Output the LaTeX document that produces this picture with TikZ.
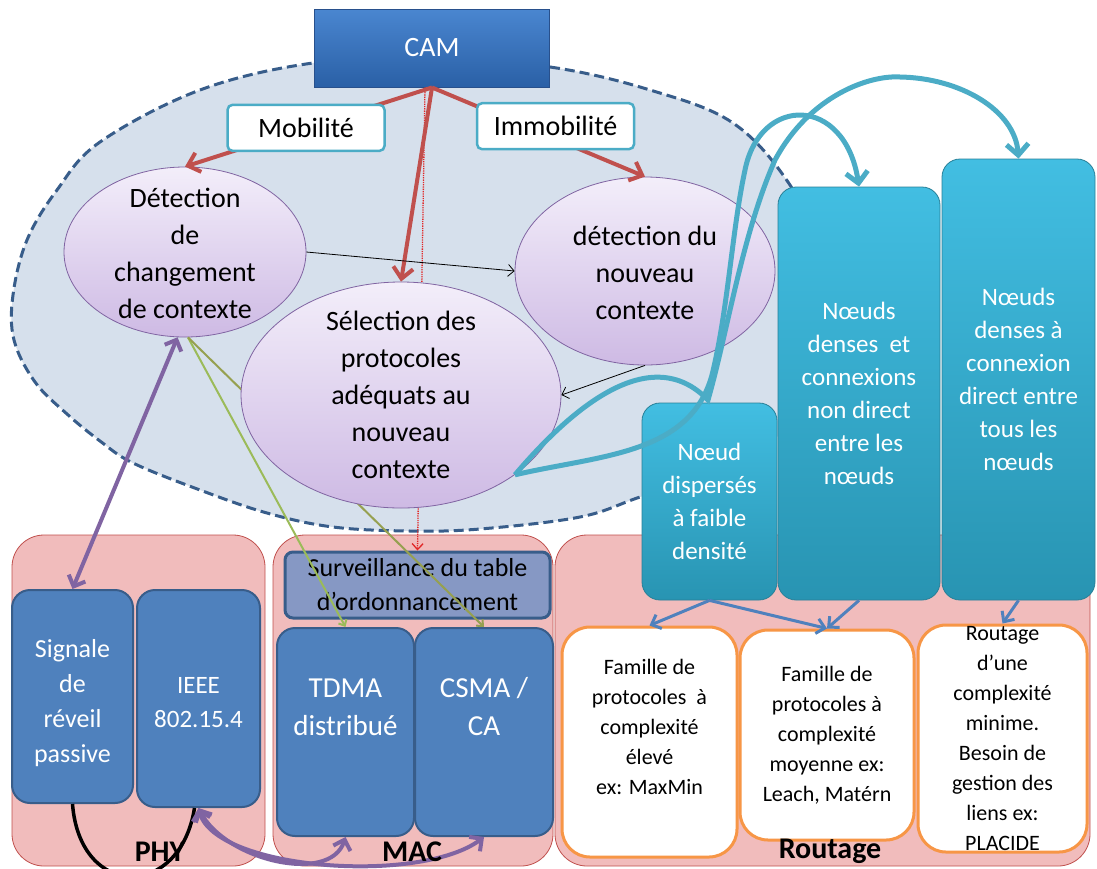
\documentclass[tikz,border=0pt]{standalone}
\usepackage{fontspec}
\setmainfont{Carlito}
\usepackage{xcolor}
\usepackage{tikz}
\usetikzlibrary{shapes.geometric,arrows.meta}

\definecolor{zonefill}{RGB}{214,224,236}
\definecolor{zoneline}{RGB}{56,93,138}
\definecolor{camtop}{RGB}{74,134,208}
\definecolor{cambot}{RGB}{42,96,166}
\definecolor{camline}{RGB}{40,80,140}
\definecolor{tagline}{RGB}{75,172,198}
\definecolor{ctxtop}{RGB}{243,238,250}
\definecolor{ctxbot}{RGB}{206,186,228}
\definecolor{ctxline}{RGB}{128,100,162}
\definecolor{layerfill}{RGB}{241,188,188}
\definecolor{layerline}{RGB}{192,80,77}
\definecolor{blkfill}{RGB}{79,129,189}
\definecolor{blkline}{RGB}{56,93,138}
\definecolor{survfill}{RGB}{134,152,196}
\definecolor{denstop}{RGB}{66,190,226}
\definecolor{densbot}{RGB}{40,148,178}
\definecolor{densline}{RGB}{40,128,152}
\definecolor{famline}{RGB}{247,150,70}
\definecolor{redarr}{RGB}{192,80,77}
\definecolor{dotred}{RGB}{225,40,40}
\definecolor{purplearr}{RGB}{128,100,162}
\definecolor{greenarr}{RGB}{155,187,89}
\definecolor{olivearr}{RGB}{150,160,80}
\definecolor{bluearr}{RGB}{79,129,189}
\definecolor{cyanarr}{RGB}{75,172,198}

\begin{document}
\begin{tikzpicture}[x=1pt, y=-1pt,
  zone/.style={draw=zoneline, fill=zonefill, line width=3pt, dash pattern=on 10pt off 5pt},
  layer/.style={draw=layerline, line width=0.8pt, fill=layerfill, rounded corners=32pt},
  layertitle/.style={inner sep=0pt, font=\bfseries\fontsize{30}{34}\selectfont},
  blk/.style={draw=blkline, line width=2pt, fill=blkfill, rounded corners=18pt},
  blktxt/.style={text=white, align=center, inner sep=0pt, font=\fontsize{26}{35}\selectfont},
  ctx/.style={ellipse, draw=ctxline, line width=0.8pt, top color=ctxtop, bottom color=ctxbot},
  ctxtxt/.style={align=center, inner sep=0pt, font=\fontsize{28}{37}\selectfont},
  tag/.style={draw=tagline, line width=2.5pt, fill=white, rounded corners=5pt, minimum width=157pt, minimum height=46pt, font=\fontsize{28}{34}\selectfont},
  dens/.style={draw=densline, line width=0.8pt, top color=denstop, bottom color=densbot, rounded corners=18pt, text=white, align=center, font=\fontsize{25}{33}\selectfont},
  fam/.style={draw=famline, line width=3pt, fill=white, rounded corners=28pt},
  famtxt/.style={align=center, inner sep=0pt, font=\fontsize{22}{30}\selectfont},
  flow/.style={draw=redarr, line width=4pt, -{Straight Barb[length=11pt,width=20pt]}},
  thinflow/.style={draw=black, line width=0.8pt, -{Straight Barb[length=6pt,width=12pt]}},
  feed/.style={line width=2pt, -{Straight Barb[length=5pt,width=9pt]}},
  duo/.style={draw=purplearr, line width=4pt, {Straight Barb[length=9pt,width=18pt]}-{Straight Barb[length=9pt,width=18pt]}},
  route/.style={draw=bluearr, line width=3pt, -{Straight Barb[length=8pt,width=15pt]}},
  swirl/.style={draw=cyanarr, line width=5pt, -{Straight Barb[length=11pt,width=22pt]}}]

\useasboundingbox (0,0) rectangle (1097,868);

\draw[zone] plot[smooth cycle, tension=0.6] coordinates {(430,58) (550,67) (650,90) (733,123) (790,185) (825,260) (830,340) (795,420) (720,470) (640,497) (580,517) (480,529) (410,531) (333,527) (267,513) (200,490) (133,463) (100,441) (67,414) (35,382) (14,340) (13,295) (27,240) (57,190) (100,142) (200,90) (313,63)};

\node[layer, minimum width=253pt, minimum height=331pt] (phy) at (138.5,700.5) {};
\node[layer, minimum width=280pt, minimum height=331pt] (mac) at (413,700.5) {};
\node[layer, minimum width=535pt, minimum height=331pt] (rout) at (822.5,700.5) {};

\node[blk, minimum width=121pt, minimum height=213pt] (sig) at (72.5,696.5) {};
\node[blktxt] (sigtxt) at (72.5,703) {Signale\\de\\réveil\\passive};
\node[blk, minimum width=123pt, minimum height=217pt] (ieee) at (198.5,698.5) {};
\node[blktxt, font=\fontsize{25}{34}\selectfont] (ieeetxt) at (198.5,703) {IEEE\\802.15.4};
\node[blk, minimum width=137pt, minimum height=208pt] (tdma) at (345.5,732) {};
\node[blktxt, font=\fontsize{29}{38}\selectfont] (tdmatxt) at (345.5,707) {TDMA\\distribué};
\node[blk, minimum width=138pt, minimum height=208pt] (csma) at (484,732) {};
\node[blktxt, font=\fontsize{29}{38}\selectfont] (csmatxt) at (484,707) {CSMA /\\CA};
\node[blk, fill=survfill, line width=3pt, rounded corners=8pt, minimum width=265pt, minimum height=66pt, align=center, font=\fontsize{26}{34}\selectfont] (surv) at (417.5,585) {Surveillance du table\\d’ordonnancement};

\node[draw=camline, line width=1pt, top color=camtop, bottom color=cambot, minimum width=235pt, minimum height=78pt, text=white, font=\fontsize{28}{34}\selectfont] (cam) at (432,48) {CAM};

\draw[densely dotted, draw=dotred, line width=1.3pt, -{Straight Barb[length=6pt,width=11pt]}] ([xshift=-7pt]cam.south) -- (surv.north);

\node[ctx, minimum width=242pt, minimum height=170pt] (chg) at (185,252) {};
\node[ctx, minimum width=260pt, minimum height=188pt] (nouv) at (645,271) {};

\draw[feed, draw=greenarr] (chg.-88) -- (tdma.north);
\draw[feed, draw=olivearr] (chg.-88) -- (csma.north);

\node[ctx, minimum width=320pt, minimum height=226pt] (sel) at (401,395) {};
\node[ctxtxt] (chgtxt) at (185,253) {Détection\\de\\changement\\de contexte};
\node[ctxtxt] (seltxt) at (401,395) {Sélection des\\protocoles\\adéquats au\\nouveau\\contexte};
\node[ctxtxt] (nouvtxt) at (645,273) {détection du\\nouveau\\contexte};

\draw[flow] (cam.south) -- node[tag, pos=0.51] (mob) {Mobilité} (chg.north);
\draw[flow] (cam.south) -- node[tag, pos=0.58, yshift=13pt] (immob) {Immobilité} (nouv.north);
\draw[flow] (cam.south) -- (sel.north);

\draw[thinflow] (chg.east) -- (nouv.west);
\draw[thinflow] (nouv.south) -- (sel.east);

\draw[duo] (chg.-95) -- (sig.north);
\draw[line width=3.5pt] (sig.south) .. controls (80,900) and (180,900) .. ([xshift=-4pt]ieee.south);
\draw[duo] (ieee.south) .. controls (225,860) and (330,885) .. (tdma.south);
\draw[duo] (ieee.south) .. controls (215,870) and (420,885) .. (csma.south);

\node[dens, minimum width=135pt, minimum height=197pt] (dispA) at (709.5,501.5) {Nœud\\dispersés\\à faible\\densité};
\node[dens, minimum width=162pt, minimum height=413pt] (dnsB) at (859,393.5) {Nœuds\\denses~ et\\connexions\\non direct\\entre les\\nœuds};
\node[dens, minimum width=153pt, minimum height=441pt] (dnsC) at (1018.5,379.5) {Nœuds\\denses à\\connexion\\direct entre\\tous les\\nœuds};

\node[fam, minimum width=175pt, minimum height=230pt] (fam1) at (649.5,742) {};
\node[famtxt] (fam1txt) at (649.5,727) {Famille de\\protocoles~ à\\complexité\\élevé\\ex: MaxMin};
\node[fam, minimum width=174pt, minimum height=210pt] (fam2) at (827,735) {};
\node[famtxt] (fam2txt) at (827,735) {Famille de\\protocoles à\\complexité\\moyenne ex:\\Leach, Matérn};
\node[fam, minimum width=169pt, minimum height=227pt] (fam3) at (1002.5,738.5) {};
\node[famtxt] (fam3txt) at (1002.5,739) {Routage\\d’une\\complexité\\minime.\\Besoin de\\gestion des\\liens ex:\\PLACIDE};

\node[layertitle] (phylbl) at (160,852) {PHY};
\node[layertitle] (maclbl) at (412,852) {MAC};
\node[layertitle] (routlbl) at (830,851) {Routage};

\draw[route] (dispA.south) -- (fam1.north);
\draw[route] (dispA.south) -- (fam2.north);
\draw[route] (dnsB.south) -- (fam2.north);
\draw[route] (dnsC.south) -- (fam3.north);

\draw[swirl] (sel.-35) .. controls (600,455) and (690,455) .. (712,375) .. controls (728,310) and (732,230) .. (745,170) .. controls (760,95) and (845,95) .. (dnsB.north);
\draw[swirl] (sel.-35) .. controls (570,410) and (650,340) .. (708,400) .. controls (728,330) and (742,235) .. (775,160) .. controls (810,95) and (870,75) .. (900,77) .. controls (960,78) and (1015,110) .. (dnsC.north);

\end{tikzpicture}
\end{document}
